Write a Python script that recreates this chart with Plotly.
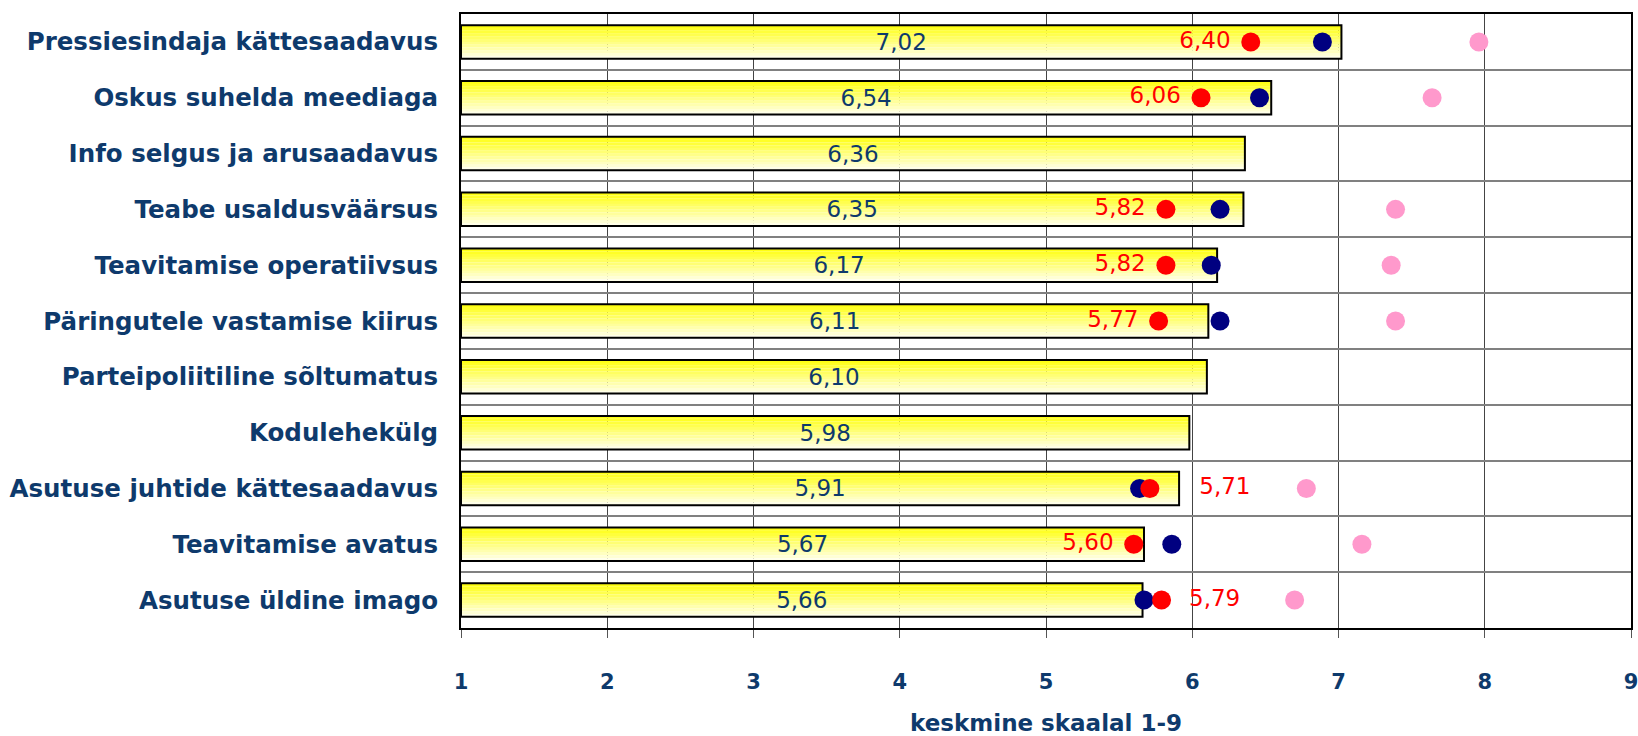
import plotly.graph_objects as go

categories = [
    "Pressiesindaja kättesaadavus",
    "Oskus suhelda meediaga",
    "Info selgus ja arusaadavus",
    "Teabe usaldusväärsus",
    "Teavitamise operatiivsus",
    "Päringutele vastamise kiirus",
    "Parteipoliitiline sõltumatus",
    "Kodulehekülg",
    "Asutuse juhtide kättesaadavus",
    "Teavitamise avatus",
    "Asutuse üldine imago",
]
bar_values = [7.02, 6.54, 6.36, 6.35, 6.17, 6.11, 6.10, 5.98, 5.91, 5.67, 5.66]
red_values = [6.40, 6.06, None, 5.82, 5.82, 5.77, None, None, 5.71, 5.60, 5.79]
navy_values = [6.89, 6.46, None, 6.19, 6.13, 6.19, None, None, 5.64, 5.86, 5.67]
pink_values = [7.96, 7.64, None, 7.39, 7.36, 7.39, None, None, 6.78, 7.16, 6.70]
red_label_pos = ["middle left", "middle left", "middle left", "middle left", "middle left",
                 "middle left", "middle left", "middle left", "middle right", "middle left",
                 "middle right"]
red_label_pad = [1, 1, 0, 1, 1, 1, 0, 0, 5, 1, 2]
x_ticks = [1, 2, 3, 4, 5, 6, 7, 8, 9]
x_title = "keskmine skaalal 1-9"

NAVY_TXT = "#0e3a6c"
FONT = "DejaVu Sans"


def fmt(v):
    return f"{v:.2f}".replace(".", ",")


fig = go.Figure()

# gradient bars built from horizontal strips
n_strips = 12
bar_w = 0.6
top = (255, 255, 20)
bottom = (255, 255, 232)
for k in range(n_strips):
    t = k / (n_strips - 1)
    c = tuple(round(top[i] + (bottom[i] - top[i]) * t) for i in range(3))
    fig.add_trace(go.Bar(
        x=[v - 1 for v in bar_values], y=categories, orientation="h",
        base=1,
        width=bar_w / n_strips + 0.002,
        offset=-bar_w / 2 + k * bar_w / n_strips,
        marker=dict(color=f"rgb{c}", line=dict(width=0)),
        hoverinfo="skip", showlegend=False,
    ))

# outline + value label
fig.add_trace(go.Bar(
    x=[v - 1 for v in bar_values], y=categories, orientation="h",
    base=1,
    width=bar_w, offset=-bar_w / 2,
    marker=dict(color="rgba(0,0,0,0)", line=dict(color="#000000", width=2)),
    text=[fmt(v) for v in bar_values],
    textposition="inside", insidetextanchor="middle",
    textfont=dict(family=FONT, size=23, color=NAVY_TXT),
    constraintext="none",
    showlegend=False,
))

red_text = []
for v, p, n in zip(red_values, red_label_pos, red_label_pad):
    if v is None:
        red_text.append("")
    elif p == "middle right":
        red_text.append("\u00a0" * n + fmt(v))
    else:
        red_text.append(fmt(v) + "\u00a0" * n)

fig.add_trace(go.Scatter(
    x=navy_values, y=categories, mode="markers",
    marker=dict(color="#000080", size=19, line=dict(width=0)),
    showlegend=False,
))
fig.add_trace(go.Scatter(
    x=red_values, y=categories, mode="markers+text",
    marker=dict(color="#ff0000", size=19, line=dict(width=0)),
    text=red_text, textposition=red_label_pos,
    textfont=dict(family=FONT, size=23, color="#ff0000"),
    showlegend=False,
))
fig.add_trace(go.Scatter(
    x=pink_values, y=categories, mode="markers",
    marker=dict(color="#ff99cc", size=19, line=dict(width=0)),
    showlegend=False,
))

fig.update_layout(
    width=1638, height=736,
    margin=dict(l=461, r=7, t=14, b=108, autoexpand=False),
    paper_bgcolor="white", plot_bgcolor="white",
    barmode="overlay",
    font=dict(family=FONT, color=NAVY_TXT),
)
fig.update_xaxes(
    range=[1, 9], tickvals=x_ticks, ticktext=[str(t) for t in x_ticks],
    showgrid=True, gridcolor="#444444", gridwidth=1,
    showline=True, linecolor="#000000", linewidth=2, mirror=True,
    ticks="outside", ticklen=8, tickcolor="#555555",
    tickfont=dict(family=FONT, size=21, color=NAVY_TXT, weight="bold"),
    ticklabelstandoff=26, automargin=False, ticklabeloverflow="allow",
    title=dict(text=x_title, font=dict(family=FONT, size=23, color=NAVY_TXT, weight="bold"), standoff=23),
    zeroline=False,
)
fig.update_yaxes(
    type="category", categoryorder="array", categoryarray=categories,
    range=[len(categories) - 0.5, -0.5], tickson="boundaries",
    showgrid=True, gridcolor="#808080", gridwidth=2,
    showline=True, linecolor="#000000", linewidth=2, mirror=True,
    ticks="", ticklabelstandoff=16, automargin=False,
    tickfont=dict(family=FONT, size=24.5, color=NAVY_TXT, weight="bold"),
)

fig.write_html(
    "out.html",
    config={"displayModeBar": False},
    post_script="document.body.style.margin='0';document.body.style.overflow='hidden';",
)
